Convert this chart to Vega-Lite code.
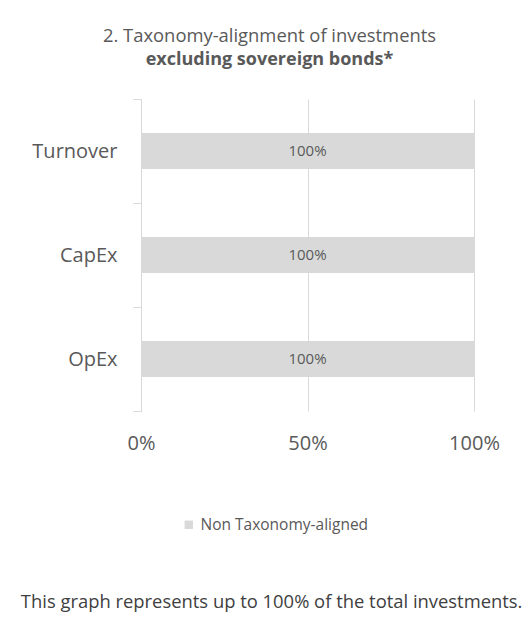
{
  "$schema": "https://vega.github.io/schema/vega-lite/v6.json",
  "background": "white",
  "padding": {"left": 20, "top": 26, "right": 10, "bottom": 10},
  "config": {"font": "Open Sans", "view": {"stroke": null}},
  "title": {"text": "This graph represents up to 100% of the total investments.", "orient": "bottom", "anchor": "middle", "fontSize": 18.4, "fontWeight": "normal", "color": "#404040", "offset": 19, "dx": 6},
  "vconcat": [
    {
      "width": 333,
      "height": 312,
      "title": {"text": "2. Taxonomy-alignment of investments", "subtitle": "excluding sovereign bonds*", "anchor": "middle", "frame": "group", "dx": -38, "fontSize": 18.4, "fontWeight": "normal", "color": "#595959", "subtitleFontSize": 18, "subtitleFontWeight": "bold", "subtitleColor": "#595959", "subtitlePadding": 6, "offset": 20},
      "data": {"values": [
        {"metric": "Turnover", "category": "Non Taxonomy-aligned", "value": 1},
        {"metric": "CapEx", "category": "Non Taxonomy-aligned", "value": 1},
        {"metric": "OpEx", "category": "Non Taxonomy-aligned", "value": 1}
      ]},
      "encoding": {
        "y": {"field": "metric", "type": "nominal", "sort": ["Turnover", "CapEx", "OpEx"], "scale": {"paddingInner": 0, "paddingOuter": 0}, "axis": {"title": null, "tickBand": "extent", "tickSize": 8, "tickColor": "#d9d9d9", "domainColor": "#d9d9d9", "labelFontSize": 20, "labelColor": "#595959", "labelPadding": 16, "grid": false}}
      },
      "layer": [
        {
          "mark": {"type": "bar", "height": {"band": 0.346}},
          "encoding": {
            "x": {"field": "value", "type": "quantitative", "scale": {"domain": [0, 1]}, "axis": {"title": null, "values": [0, 0.5, 1], "format": "%", "grid": true, "gridColor": "#d9d9d9", "domain": false, "ticks": false, "labelFlush": false, "labelFontSize": 20, "labelColor": "#595959", "labelPadding": 22}},
            "color": {"field": "category", "type": "nominal", "scale": {"range": ["#d9d9d9"]}, "legend": {"title": null, "orient": "bottom", "direction": "horizontal", "symbolType": "square", "symbolSize": 70, "labelFontSize": 15.5, "labelLimit": 300, "labelColor": "#595959", "padding": 40, "offset": 24}}
          }
        },
        {
          "mark": {"type": "text", "fontSize": 15, "color": "#595959"},
          "encoding": {
            "x": {"datum": 0.5},
            "text": {"field": "value", "type": "quantitative", "format": ".0%"}
          }
        }
      ]
    }
  ]
}
